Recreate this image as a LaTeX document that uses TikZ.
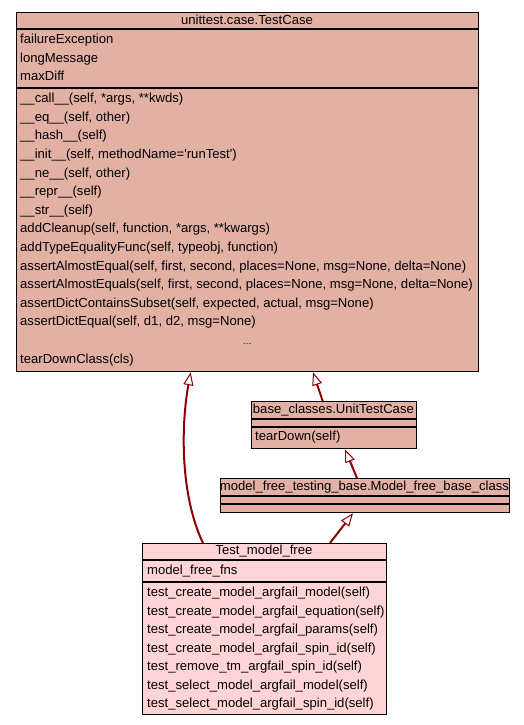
\documentclass[tikz,border=0pt]{standalone}
\usepackage{fontspec}
\setmainfont{Liberation Sans}
\usetikzlibrary{positioning, arrows.meta}
\definecolor{ClassFill}{HTML}{E2B1A4}
\definecolor{ClassFillMain}{HTML}{FFD4D7}
\definecolor{InheritRed}{HTML}{8B0000}

\tikzset{
  classbox/.style={draw=black, line width=1.3pt, anchor=north west, inner sep=0pt},
  classsep/.style={draw=black, line width=1.6pt},
  member/.style={anchor=base west, inner sep=0pt, font=\fontsize{13.1}{15}\selectfont},
  classtitle/.style={anchor=base, inner sep=0pt, font=\fontsize{13.1}{15}\selectfont},
  inherit/.style={draw=InheritRed, line width=2pt,
    -{Triangle[open, fill=white, length=13pt, width=10pt, line width=1pt]}},
}

\begin{document}
\begin{tikzpicture}[x=1pt, y=-1pt]
  \useasboundingbox (0,0) rectangle (524,725);

  % unittest.case.TestCase
  \node[classbox, fill=ClassFill, minimum width=462pt, minimum height=359pt] (testcase) at (16,12) {};
  \draw[classsep] (16,29) -- (478,29);
  \draw[classsep] (16,88) -- (478,88);
  \node[classtitle] (tc-title) at (247,24.5) {unittest.case.TestCase};
  \foreach \a [count=\i from 0] in {failureException, longMessage, maxDiff}
    \node[member] (tc-a\i) at (20,43.7+18.5*\i) {\a};
  \foreach \m [count=\i from 0] in {
      {\_\_call\_\_(self, *args, **kwds)},
      {\_\_eq\_\_(self, other)},
      {\_\_hash\_\_(self)},
      {\_\_init\_\_(self, methodName=\textquotesingle runTest\textquotesingle)},
      {\_\_ne\_\_(self, other)},
      {\_\_repr\_\_(self)},
      {\_\_str\_\_(self)},
      {addCleanup(self, function, *args, **kwargs)},
      {addTypeEqualityFunc(self, typeobj, function)},
      {assertAlmostEqual(self, first, second, places=None, msg=None, delta=None)},
      {assertAlmostEquals(self, first, second, places=None, msg=None, delta=None)},
      {assertDictContainsSubset(self, expected, actual, msg=None)},
      {assertDictEqual(self, d1, d2, msg=None)}}
    \node[member] (tc-m\i) at (20,102.7+18.6*\i) {\m};
  \node[classtitle, font=\fontsize{9}{11}\selectfont] (tc-dots) at (247,344) {\dots};
  \node[member] (tc-last) at (20,363.5) {tearDownClass(cls)};

  % base_classes.UnitTestCase
  \node[classbox, fill=ClassFill, minimum width=165.3pt, minimum height=47pt] (utc) at (250.7,401) {};
  \draw[classsep] (250.7,418.7) -- (416,418.7);
  \draw[classsep] (250.7,426.7) -- (416,426.7);
  \node[classtitle] (utc-title) at (333.4,413.7) {base\_classes.UnitTestCase};
  \node[member] (utc-m0) at (255,440.7) {tearDown(self)};

  % model_free_testing_base.Model_free_base_class
  \node[classbox, fill=ClassFill, minimum width=289pt, minimum height=34pt] (mfb) at (220,478) {};
  \draw[classsep] (220,496) -- (509,496);
  \draw[classsep] (220,504) -- (509,504);
  \node[classtitle] (mfb-title) at (364.5,490.7) {model\_free\_testing\_base.Model\_free\_base\_class};

  % Test_model_free
  \node[classbox, fill=ClassFillMain, minimum width=244pt, minimum height=171pt] (tmf) at (142,543) {};
  \draw[classsep] (142,560) -- (386,560);
  \draw[classsep] (142,582) -- (386,582);
  \node[classtitle] (tmf-title) at (264,554.7) {Test\_model\_free};
  \node[member] (tmf-a0) at (147,574.7) {model\_free\_fns};
  \foreach \m [count=\i from 0] in {
      test\_create\_model\_argfail\_model(self),
      test\_create\_model\_argfail\_equation(self),
      test\_create\_model\_argfail\_params(self),
      test\_create\_model\_argfail\_spin\_id(self),
      test\_remove\_tm\_argfail\_spin\_id(self),
      test\_select\_model\_argfail\_model(self),
      test\_select\_model\_argfail\_spin\_id(self)}
    \node[member] (tmf-m\i) at (147,596.7+18.5*\i) {\m};

  % Inheritance
  \draw[inherit] ([xshift=61pt]tmf.north west) .. controls (180,495) and (181,425) .. ([xshift=174.7pt]testcase.south west);
  \draw[inherit] ([xshift=72pt]utc.north west) -- ([xshift=297pt]testcase.south west);
  \draw[inherit] ([xshift=137pt]mfb.north west) -- ([xshift=94.3pt]utc.south west);
  \draw[inherit] ([xshift=188pt]tmf.north west) -- ([xshift=133pt]mfb.south west);
\end{tikzpicture}
\end{document}
